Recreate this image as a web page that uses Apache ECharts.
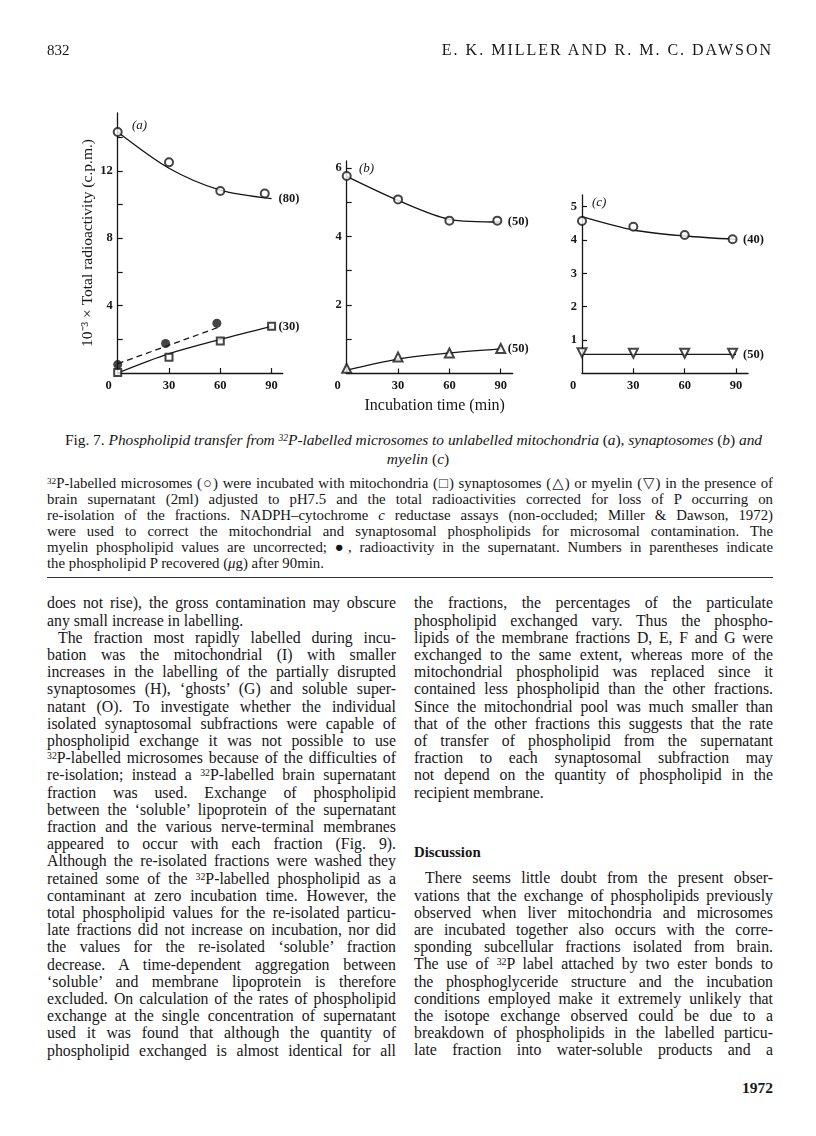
<!DOCTYPE html>
<html lang="en">
<head>
<meta charset="UTF-8">
<title>Fig. 7 phospholipid transfer</title>
<style>
  html, body { margin: 0; padding: 0; background: #fff; }
  body { width: 816px; height: 1136px; position: relative; overflow: hidden;
         font-family: 'Liberation Serif', 'DejaVu Serif', serif; color: #161616; }
  #main { position: absolute; left: 0; top: 0; width: 816px; height: 420px; }
  .ln { position: absolute; white-space: normal; }
  .just { text-align: justify; text-align-last: justify; }
  sup { font-size: 0.62em; vertical-align: 0.45em; line-height: 0; }
  .rule { position: absolute; left: 47px; width: 726px; top: 577px; height: 0; border-top: 1.6px solid #333; }
</style>
</head>
<body>
<div id="main"></div>
<div id="page"></div>
<script src="https://cdn.jsdelivr.net/npm/echarts@6/dist/echarts.min.js"></script>
<script>
// ---- data (x = incubation time, min; y = 10^-3 x c.p.m.) ----
const curveTime = [0, 30, 60, 90];

// (a) mitochondria
const aMicroTime = [0, 30, 60, 86];
const aMicroVals = [14.3, 12.5, 10.8, 10.65];
const aMicroCurve = [14.3, 12.15, 10.85, 10.35];
const aMitoTime = [0, 30, 60, 90];
const aMitoVals = [0.03, 0.93, 1.9, 2.77];
const aMitoCurve = [0, 1.15, 2.0, 2.77];
const aSuperTime = [0, 28, 58];
const aSuperVals = [0.5, 1.75, 2.95];
const aSuperLineTime = [0, 60];
const aSuperLine = [0.55, 2.75];

// (b) synaptosomes
const bMicroTime = [0, 30, 60, 88];
const bMicroVals = [5.76, 5.08, 4.46, 4.46];
const bMicroCurve = [5.75, 5.05, 4.5, 4.42];
const bSynTime = [0, 30, 60, 90];
const bSynVals = [0.15, 0.48, 0.6, 0.73];
const bSynCurve = [0.1, 0.42, 0.6, 0.72];

// (c) myelin
const cTime = [0, 30, 60, 88];
const cMicroVals = [4.57, 4.4, 4.15, 4.02];
const cMicroCurve = [4.7, 4.3, 4.12, 4.02];
const cMyelinVals = [0.62, 0.6, 0.6, 0.6];
const cMyelinCurve = [0.57, 0.57, 0.57, 0.57];

// phospholipid P recovered after 90 min (ug)
const recovered = { aMicro: '(80)', aMito: '(30)', bMicro: '(50)', bSyn: '(50)', cMicro: '(40)', cMyelin: '(50)' };

const xTickVals = [30, 60, 90];
const xLabelVals = [0, 30, 60, 90];
const aYTicks = [2, 4, 6, 8, 10, 12, 14];
const aYLabels = [4, 8, 12];
const bYTicks = [1, 2, 3, 4, 5, 6];
const bYLabels = [2, 4, 6];
const cYTicks = [1, 2, 3, 4, 5];
const cYLabels = [1, 2, 3, 4, 5];

const ink = '#161616';
const serif = 'Liberation Serif';
const pts = (xs, ys) => xs.map((x, i) => [x, ys[i]]);

function xAxis(gi, max, name) {
  return {
    type: 'value', gridIndex: gi, min: 0, max: max,
    splitLine: { show: false },
    axisLine: { lineStyle: { color: ink, width: 1.3 } },
    axisTick: { inside: true, length: 5, customValues: xTickVals, lineStyle: { color: ink, width: 1.2 } },
    axisLabel: {
      customValues: xLabelVals, margin: 6, color: ink, fontFamily: serif, fontWeight: 'bold', fontSize: 12.5,
      formatter: v => v === 0 ? '{z|0}' : String(v),
      rich: { z: { padding: [0, 18, 0, 0], color: ink, fontFamily: serif, fontWeight: 'bold', fontSize: 12.5 } }
    },
    name: name || '', nameLocation: 'middle', nameGap: 19,
    nameTextStyle: { color: ink, fontFamily: serif, fontSize: 16, padding: [0, 0, 0, 10] }
  };
}
function yAxis(gi, max, ticks, labels, name) {
  return {
    type: 'value', gridIndex: gi, min: 0, max: max,
    splitLine: { show: false },
    axisLine: { lineStyle: { color: ink, width: 1.3 } },
    axisTick: { inside: true, length: 5, customValues: ticks, lineStyle: { color: ink, width: 1.2 } },
    axisLabel: { customValues: labels, margin: 5, color: ink, fontFamily: serif, fontWeight: 'bold', fontSize: 12.5 },
    name: name || '', nameLocation: 'middle', nameGap: 21, nameRotate: 90,
    nameTextStyle: { color: ink, fontFamily: serif, fontSize: 15.5 }
  };
}
function curve(gi, xs, ys, tag, dashed) {
  return {
    type: 'line', xAxisIndex: gi, yAxisIndex: gi, data: pts(xs, ys),
    smooth: dashed ? false : 0.3, showSymbol: false, silent: true, z: 2,
    lineStyle: { color: ink, width: 1.3, type: dashed ? [6, 4] : 'solid' },
    endLabel: tag ? { show: true, formatter: tag, distance: 7, color: ink, fontFamily: serif, fontWeight: 'bold', fontSize: 12.5 } : { show: false }
  };
}
function marks(gi, xs, ys, symbol, size, rotate) {
  const filled = symbol === 'circle';
  return {
    type: 'scatter', xAxisIndex: gi, yAxisIndex: gi, data: pts(xs, ys), clip: false, z: 3,
    symbol: symbol, symbolSize: size, symbolRotate: rotate || 0, silent: true,
    itemStyle: filled ? { color: ink } : { color: ink, borderColor: ink, borderWidth: 1.5 }
  };
}

const option = {
  animation: false,
  backgroundColor: '#fff',
  grid: [
    { left: 117.7, top: 113, width: 165, height: 260 },
    { left: 346.7, top: 161, width: 166, height: 212.5 },
    { left: 582, top: 195, width: 166, height: 178.3 }
  ],
  xAxis: [xAxis(0, 96.5), xAxis(1, 97, 'Incubation time (min)'), xAxis(2, 97)],
  yAxis: [
    yAxis(0, 15.43, aYTicks, aYLabels, '10\u207B\u00B3 \u00D7 Total radioactivity (c.p.m.)'),
    yAxis(1, 6.2, bYTicks, bYLabels),
    yAxis(2, 5.35, cYTicks, cYLabels)
  ],
  graphic: [
    { type: 'text', left: 132, top: 119, style: { text: '(a)', font: 'italic 13px "Liberation Serif"', fill: ink } },
    { type: 'text', left: 359, top: 162, style: { text: '(b)', font: 'italic 13px "Liberation Serif"', fill: ink } },
    { type: 'text', left: 592, top: 196, style: { text: '(c)', font: 'italic 13px "Liberation Serif"', fill: ink } }
  ],
  series: [
    curve(0, curveTime, aMicroCurve, recovered.aMicro),
    marks(0, aMicroTime, aMicroVals, 'emptyCircle', 8),
    curve(0, curveTime, aMitoCurve, recovered.aMito),
    marks(0, aMitoTime, aMitoVals, 'emptyRect', 7),
    curve(0, aSuperLineTime, aSuperLine, null, true),
    marks(0, aSuperTime, aSuperVals, 'circle', 9),

    curve(1, curveTime, bMicroCurve, recovered.bMicro),
    marks(1, bMicroTime, bMicroVals, 'emptyCircle', 8),
    curve(1, curveTime, bSynCurve, recovered.bSyn),
    marks(1, bSynTime, bSynVals, 'emptyTriangle', 9),

    curve(2, curveTime, cMicroCurve, recovered.cMicro),
    marks(2, cTime, cMicroVals, 'emptyCircle', 8),
    curve(2, curveTime, cMyelinCurve, recovered.cMyelin),
    marks(2, cTime, cMyelinVals, 'emptyTriangle', 9, 180)
  ]
};
const myChart = echarts.init(document.getElementById('main'), null, { renderer: 'canvas' });
myChart.setOption(option);

// ---- page text ----
const capLines = [
  '<sup>32</sup>P-labelled microsomes (\u25CB) were incubated with mitochondria (\u25A1) synaptosomes (\u25B3) or myelin (\u25BD) in the presence of',
  'brain supernatant (2ml) adjusted to pH7.5 and the total radioactivities corrected for loss of P occurring on',
  're-isolation of the fractions. NADPH\u2013cytochrome <i>c</i> reductase assays (non-occluded; Miller &amp; Dawson, 1972)',
  'were used to correct the mitochondrial and synaptosomal phospholipids for microsomal contamination. The',
  'myelin phospholipid values are uncorrected; \u25CF, radioactivity in the supernatant. Numbers in parentheses indicate',
  'the phospholipid P recovered (<i>\u03BC</i>g) after 90min.|'
];
const leftCol = [
  'does not rise), the gross contamination may obscure',
  'any small increase in labelling.|',
  '>The fraction most rapidly labelled during incu-',
  'bation was the mitochondrial (I) with smaller',
  'increases in the labelling of the partially disrupted',
  'synaptosomes (H), \u2018ghosts\u2019 (G) and soluble super-',
  'natant (O). To investigate whether the individual',
  'isolated synaptosomal subfractions were capable of',
  'phospholipid exchange it was not possible to use',
  '<sup>32</sup>P-labelled microsomes because of the difficulties of',
  're-isolation; instead a <sup>32</sup>P-labelled brain supernatant',
  'fraction was used. Exchange of phospholipid',
  'between the \u2018soluble\u2019 lipoprotein of the supernatant',
  'fraction and the various nerve-terminal membranes',
  'appeared to occur with each fraction (Fig. 9).',
  'Although the re-isolated fractions were washed they',
  'retained some of the <sup>32</sup>P-labelled phospholipid as a',
  'contaminant at zero incubation time. However, the',
  'total phospholipid values for the re-isolated particu-',
  'late fractions did not increase on incubation, nor did',
  'the values for the re-isolated \u2018soluble\u2019 fraction',
  'decrease. A time-dependent aggregation between',
  '\u2018soluble\u2019 and membrane lipoprotein is therefore',
  'excluded. On calculation of the rates of phospholipid',
  'exchange at the single concentration of supernatant',
  'used it was found that although the quantity of',
  'phospholipid exchanged is almost identical for all'
];
const rightCol = [
  'the fractions, the percentages of the particulate',
  'phospholipid exchanged vary. Thus the phospho-',
  'lipids of the membrane fractions D, E, F and G were',
  'exchanged to the same extent, whereas more of the',
  'mitochondrial phospholipid was replaced since it',
  'contained less phospholipid than the other fractions.',
  'Since the mitochondrial pool was much smaller than',
  'that of the other fractions this suggests that the rate',
  'of transfer of phospholipid from the supernatant',
  'fraction to each synaptosomal subfraction may',
  'not depend on the quantity of phospholipid in the',
  'recipient membrane.|'
];
const discussionCol = [
  '>There seems little doubt from the present obser-',
  'vations that the exchange of phospholipids previously',
  'observed when liver mitochondria and microsomes',
  'are incubated together also occurs with the corre-',
  'sponding subcellular fractions isolated from brain.',
  'The use of <sup>32</sup>P label attached by two ester bonds to',
  'the phosphoglyceride structure and the incubation',
  'conditions employed make it extremely unlikely that',
  'the isotope exchange observed could be due to a',
  'breakdown of phospholipids in the labelled particu-',
  'late fraction into water-soluble products and a'
];

const page = document.getElementById('page');
// natural width of a line, used to tighten lines that would otherwise wrap
function naturalWidth(html, size) {
  const m = document.createElement('span');
  m.style.cssText = 'position:absolute;visibility:hidden;white-space:nowrap;left:0;top:0;font-size:' + size + 'px';
  m.innerHTML = html;
  page.appendChild(m);
  const w = m.getBoundingClientRect().width;
  page.removeChild(m);
  return w;
}
function addLine(html, left, yMid, width, size, lh, cls, extra) {
  const d = document.createElement('div');
  d.className = 'ln ' + (cls || '');
  d.style.left = left + 'px';
  d.style.top = (yMid - lh / 2) + 'px';
  if (width) d.style.width = width + 'px';
  d.style.fontSize = size + 'px';
  d.style.lineHeight = lh + 'px';
  if (extra) Object.assign(d.style, extra);
  d.innerHTML = html;
  if (width && cls === 'just') {
    const w = naturalWidth(html, size);
    const n = d.textContent.length;
    if (w > width - 2) d.style.letterSpacing = ((width - 2 - w) / n) + 'px';
  }
  page.appendChild(d);
}
function addBlock(lines, left, y0, width, step, size, indent) {
  lines.forEach((s, i) => {
    let txt = s, ind = 0, cls = 'just';
    if (txt.startsWith('>')) { txt = txt.slice(1); ind = indent; }
    if (txt.endsWith('|')) { txt = txt.slice(0, -1); cls = ''; }
    addLine(txt, left + ind, y0 + i * step, width - ind, size, step, cls);
  });
}

addLine('832', 47, 50, 0, 15, 18, '');
addLine('E. K. MILLER AND R. M. C. DAWSON', 0, 50, 773, 16, 18, '', { textAlign: 'right', letterSpacing: '2px', marginRight: '-2px' });

addLine('Fig. 7. <i>Phospholipid transfer from <sup>32</sup>P-labelled microsomes to unlabelled mitochondria</i> (<i>a</i>), <i>synaptosomes</i> (<i>b</i>) <i>and</i>',
        65, 440, 697, 15.5, 18, 'just');
addLine('<i>myelin</i> (<i>c</i>)', 0, 459, 816, 15.5, 18, '', { textAlign: 'center', paddingLeft: '10px' });

addBlock(capLines, 47, 483, 726, 16, 14.8, 0);

const rule = document.createElement('div');
rule.className = 'rule';
page.appendChild(rule);

addBlock(leftCol, 47, 603, 349, 17.2, 15.8, 11);
addBlock(rightCol, 414, 603, 359, 17.2, 15.8, 11);
addLine('<b>Discussion</b>', 414, 852, 0, 14.8, 18, '');
addBlock(discussionCol, 414, 878, 359, 17.2, 15.8, 11);

addLine('<b>1972</b>', 0, 1088, 773, 15.5, 18, '', { textAlign: 'right' });
</script>
</body>
</html>
